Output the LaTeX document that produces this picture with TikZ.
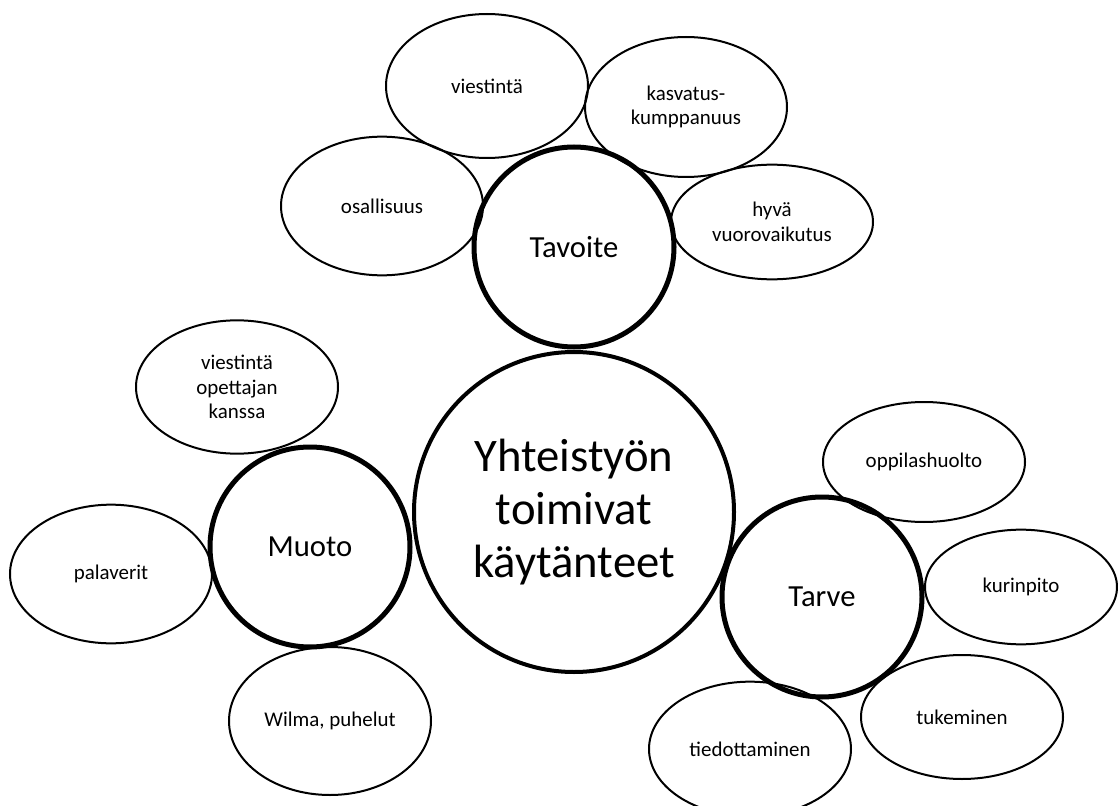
\documentclass[tikz,border=0pt]{standalone}
\usepackage{fontspec}
\setmainfont{Carlito}
\usepackage{tikz}
\usetikzlibrary{shapes.geometric}

\begin{document}
\begin{tikzpicture}[x=0.75pt,y=-0.75pt,
  leaf/.style={draw,ellipse,line width=1.5pt,inner sep=1pt,align=center,
    minimum width=151.5pt,font=\fontsize{15.7}{18.5}\selectfont},
  hub/.style={draw,circle,line width=3.75pt,minimum size=150pt,
    font=\fontsize{23}{27}\selectfont},
  core/.style={draw,circle,line width=3pt,minimum size=240pt,align=center,
    font=\fontsize{35}{39.75}\selectfont}]
\useasboundingbox (0,0) rectangle (1118,806);
% main circle and the three hubs
\node[core] (core) at (574,512) {Yhteistyön\\toimivat\\käytänteet};
\node[hub] (tavoite) at (574,247) {Tavoite};
\node[hub] (muoto) at (310,547) {Muoto};
\node[hub] (tarve) at (822,597) {Tarve};
% Tavoite
\node[leaf,minimum height=108pt] (viestinta) at (487,86) {viestintä};
\node[leaf,minimum height=104pt] (osallisuus) at (382,206) {osallisuus};
\node[leaf,minimum height=105pt] (kasvatus) at (686,107) {kasvatus-\\kumppanuus};
\node[leaf,minimum height=86pt] (vuoro) at (772,222) {hyvä\\vuorovaikutus};
% Muoto
\node[leaf,minimum height=100pt] (opettaja) at (237,387) {viestintä\\opettajan\\kanssa};
\node[leaf,minimum height=104pt] (palaverit) at (111,574) {palaverit};
\node[leaf,minimum height=111pt] (wilma) at (330,721) {Wilma, puhelut};
% Tarve
\node[leaf,minimum height=90pt] (huolto) at (924,462) {oppilashuolto};
\node[leaf,minimum height=86pt,minimum width=144pt] (kuri) at (1021,587) {kurinpito};
\node[leaf,minimum height=93pt] (tuki) at (962,717) {tukeminen};
\node[leaf,minimum height=101pt] (tiedotus) at (750,749) {tiedottaminen};
\end{tikzpicture}
\end{document}
